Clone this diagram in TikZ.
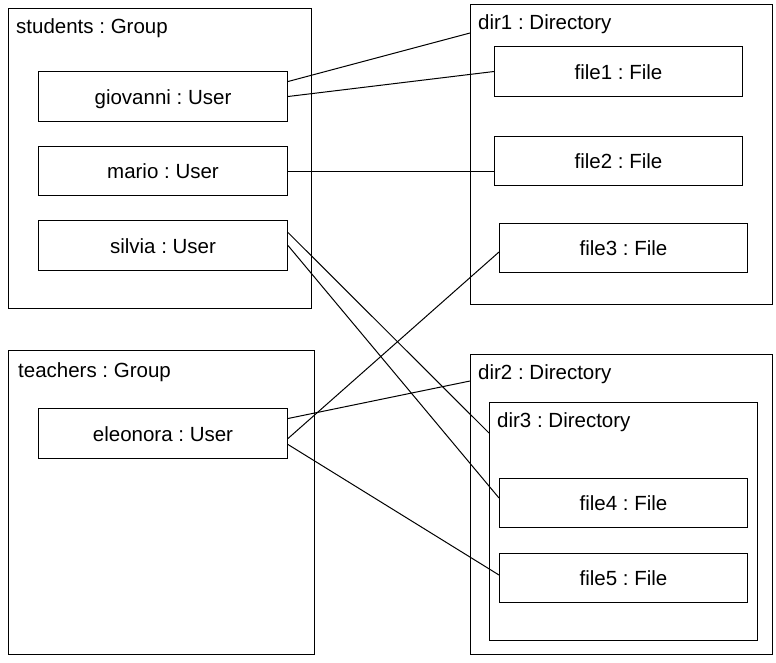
\documentclass[tikz,border=0pt]{standalone}
\usepackage{fontspec}
\setmainfont{Liberation Sans}
\frenchspacing
\usetikzlibrary{arrows}

\tikzset{
        frame/.style={draw, line width=1pt, anchor=north west, inner sep=0pt},
        obj/.style={draw, line width=1pt, anchor=north west, inner sep=0pt,
                text height=15pt, text depth=0pt},
        title/.style={anchor=base west, inner sep=0pt},
        link/.style={line width=1pt}
}

\begin{document}
\begin{tikzpicture}[x=1pt, y=-1pt, font=\fontsize{20.5}{24}\selectfont]
        \useasboundingbox (0,0) rectangle (776,662);
        % groups
        \node[frame, minimum width=303pt, minimum height=300pt] (students) at (8,8) {};
        \node[title] (studentsT) at ([shift={(8,25)}]students.north west) {students : Group};
        \node[frame, minimum width=306pt, minimum height=304pt] (teachers) at (8,350) {};
        \node[title] (teachersT) at ([shift={(10,27)}]teachers.north west) {teachers : Group};
        % users
        \node[obj, minimum width=249pt, minimum height=50pt] (giovanni) at (38,71) {giovanni : User};
        \node[obj, minimum width=249pt, minimum height=49pt] (mario) at (38,146) {mario : User};
        \node[obj, minimum width=249pt, minimum height=50pt] (silvia) at (38,220) {silvia : User};
        \node[obj, minimum width=249pt, minimum height=50pt] (eleonora) at (38,408) {eleonora : User};
        % directories
        \node[frame, minimum width=302pt, minimum height=300pt] (dir1) at (470,4) {};
        \node[title] (dir1T) at ([shift={(8,25)}]dir1.north west) {dir1 : Directory};
        \node[frame, minimum width=302pt, minimum height=300pt] (dir2) at (470,354) {};
        \node[title] (dir2T) at ([shift={(8,25)}]dir2.north west) {dir2 : Directory};
        \node[frame, minimum width=268pt, minimum height=238pt] (dir3) at (489,402) {};
        \node[title] (dir3T) at ([shift={(8,25)}]dir3.north west) {dir3 : Directory};
        % files
        \node[obj, minimum width=248pt, minimum height=50pt] (file1) at (494,46) {file1 : File};
        \node[obj, minimum width=248pt, minimum height=49pt] (file2) at (494,136) {file2 : File};
        \node[obj, minimum width=248pt, minimum height=49pt] (file3) at (499,223) {file3 : File};
        \node[obj, minimum width=248pt, minimum height=49pt] (file4) at (499,478) {file4 : File};
        \node[obj, minimum width=248pt, minimum height=49pt] (file5) at (499,553) {file5 : File};
        % links
        \draw[link] ([yshift=15pt]giovanni.east) -- ([yshift=-29pt]dir1.north west);
        \draw[link] (giovanni.east) -- (file1.west);
        \draw[link] (mario.east) -- ([yshift=-10pt]file2.west);
        \draw[link] ([yshift=13pt]silvia.east) -- ([yshift=-31pt]dir3.north west);
        \draw[link] (silvia.east) -- ([yshift=5pt]file4.west);
        \draw[link] ([yshift=15pt]eleonora.east) -- ([yshift=-27pt]dir2.north west);
        \draw[link] ([yshift=-5pt]eleonora.east) -- ([yshift=-4pt]file3.west);
        \draw[link] ([yshift=-11pt]eleonora.east) -- ([yshift=3pt]file5.west);
\end{tikzpicture}
\end{document}
